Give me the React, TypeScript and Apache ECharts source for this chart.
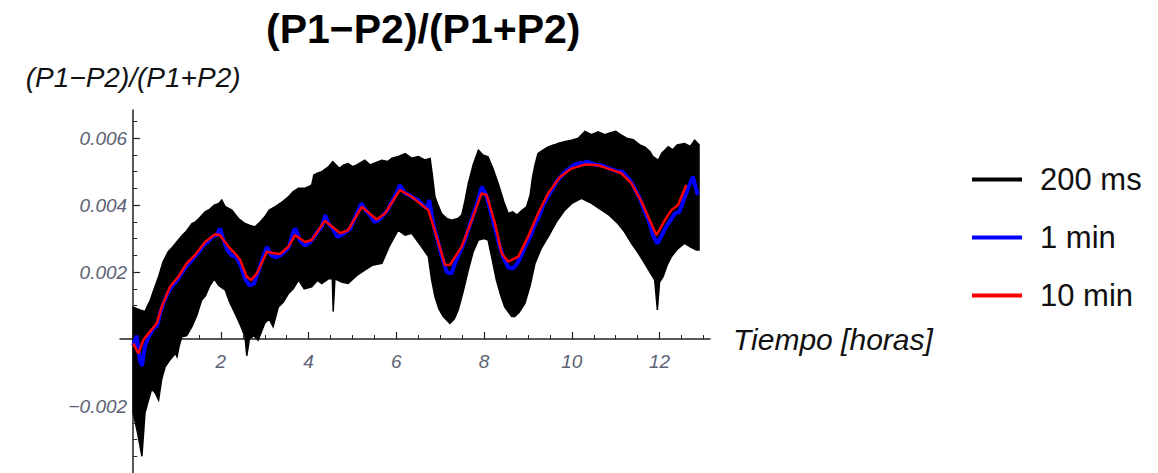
import { useEffect, useRef } from "react";
import * as echarts from "echarts";

const FONT = '"Liberation Sans", Arial, Helvetica, sans-serif';

// Time in hours; ratio values in thousandths (×1e-3).
// 200 ms samples: upper and lower edges of the dense band.
const fastUpper: [number, number][] = [
  [0, 0.95], [0.1, 0.9], [0.2, 0.85], [0.27, 0.82], [0.33, 1.0], [0.39, 1.16],
  [0.48, 1.5], [0.58, 1.86], [0.68, 2.3], [0.8, 2.61], [0.9, 2.75], [1.03, 2.96],
  [1.12, 3.1], [1.2, 3.2], [1.34, 3.45], [1.42, 3.5], [1.5, 3.6], [1.64, 3.8],
  [1.75, 3.88], [1.85, 4.0], [1.95, 4.05], [2.02, 4.15], [2.1, 3.95], [2.25, 3.85],
  [2.4, 3.6], [2.55, 3.45], [2.65, 3.4], [2.78, 3.35], [2.9, 3.5], [3.0, 3.65],
  [3.1, 3.85], [3.23, 3.95], [3.4, 4.1], [3.54, 4.25], [3.65, 4.4], [3.77, 4.5],
  [3.9, 4.5], [4.0, 4.55], [4.07, 4.6], [4.12, 4.9], [4.2, 4.95], [4.3, 5.0],
  [4.45, 5.14], [4.55, 5.3], [4.7, 5.1], [4.8, 5.2], [4.9, 5.24], [5.0, 5.15],
  [5.1, 5.2], [5.28, 5.34], [5.4, 5.2], [5.5, 5.25], [5.67, 5.34], [5.8, 5.3],
  [5.9, 5.4], [6.05, 5.45], [6.2, 5.54], [6.35, 5.4], [6.5, 5.45], [6.65, 5.35],
  [6.77, 5.39], [6.82, 4.9], [6.88, 4.25], [6.95, 4.0], [7.03, 3.75], [7.15, 3.6],
  [7.26, 3.55], [7.4, 3.6], [7.49, 3.7], [7.56, 4.1], [7.64, 4.65], [7.75, 5.2],
  [7.87, 5.64], [7.97, 5.5], [8.09, 5.44], [8.2, 5.1], [8.32, 4.65], [8.45, 4.1],
  [8.55, 3.75], [8.65, 3.8], [8.75, 3.7], [8.87, 3.85], [8.97, 3.95], [9.05, 4.3],
  [9.1, 4.8], [9.16, 5.2], [9.23, 5.54], [9.35, 5.65], [9.46, 5.74], [9.6, 5.8],
  [9.7, 5.85], [9.85, 5.9], [9.99, 5.94], [10.15, 6.0], [10.3, 6.2], [10.45, 6.1],
  [10.6, 6.19], [10.75, 6.1], [10.85, 6.15], [11.0, 6.2], [11.13, 6.09], [11.25, 6.0],
  [11.4, 5.95], [11.55, 5.8], [11.66, 5.74], [11.78, 5.6], [11.85, 5.45], [11.97, 5.34],
  [12.05, 5.55], [12.2, 5.74], [12.3, 5.65], [12.4, 5.8], [12.57, 5.84], [12.7, 5.75],
  [12.8, 5.94], [12.9, 5.8],
];

const fastLower: [number, number][] = [
  [0, -2.2], [0.1, -2.8], [0.2, -3.5], [0.27, -2.2], [0.35, -1.82], [0.42, -1.5],
  [0.5, -1.6], [0.58, -1.82], [0.65, -1.2], [0.73, -0.83], [0.85, -0.6], [0.96, -0.43],
  [1.0, -0.53], [1.05, -0.2], [1.11, 0.07], [1.22, 0.1], [1.34, 0.37], [1.45, 0.7],
  [1.56, 1.16], [1.65, 1.3], [1.75, 1.6], [1.85, 1.8], [1.95, 1.6], [2.1, 1.46],
  [2.2, 1.1], [2.32, 0.77], [2.45, 0.4], [2.55, 0.07], [2.59, -0.5], [2.65, 0.0],
  [2.75, 0.1], [2.85, -0.03], [3.0, 0.47], [3.1, 0.6], [3.19, 0.37], [3.31, 0.96],
  [3.42, 1.1], [3.54, 1.36], [3.65, 1.5], [3.77, 1.76], [3.9, 1.5], [4.07, 1.56],
  [4.2, 1.75], [4.3, 1.66], [4.45, 1.8], [4.54, 1.8], [4.56, 0.82], [4.6, 1.8],
  [4.75, 1.7], [4.9, 1.66], [5.1, 1.9], [5.28, 2.06], [5.45, 2.2], [5.67, 2.26],
  [5.85, 2.8], [6.04, 3.25], [6.2, 3.1], [6.35, 3.16], [6.55, 2.8], [6.73, 2.46],
  [6.8, 1.8], [6.88, 1.26], [6.97, 0.9], [7.07, 0.67], [7.22, 0.47], [7.32, 0.6],
  [7.41, 0.87], [7.52, 1.4], [7.64, 2.06], [7.75, 2.6], [7.87, 2.96], [8.0, 3.0],
  [8.09, 2.96], [8.18, 2.4], [8.28, 1.76], [8.38, 1.3], [8.47, 0.96], [8.63, 0.67],
  [8.7, 0.67], [8.8, 0.8], [8.93, 1.06], [9.05, 1.6], [9.16, 2.26], [9.3, 2.7],
  [9.46, 3.05], [9.65, 3.5], [9.84, 3.85], [10.0, 4.05], [10.22, 4.2], [10.45, 4.05],
  [10.68, 3.85], [10.85, 3.7], [11.05, 3.45], [11.2, 3.2], [11.36, 2.86], [11.5, 2.6],
  [11.66, 2.26], [11.78, 2.0], [11.89, 1.76], [11.95, 0.87], [12.0, 1.7], [12.08, 1.86],
  [12.17, 2.2], [12.27, 2.46], [12.42, 2.7], [12.57, 2.86], [12.7, 2.75], [12.84, 2.66],
  [12.9, 2.66],
];

// 1 min averages
const oneMin: [number, number][] = [
  [0, -0.2], [0.08, 0.1], [0.15, -0.6], [0.2, -0.8], [0.27, -0.2], [0.35, 0.05],
  [0.45, 0.3], [0.55, 0.4], [0.62, 0.8], [0.7, 1.1], [0.8, 1.4], [0.9, 1.6],
  [1.0, 1.75], [1.1, 1.95], [1.2, 2.15], [1.3, 2.3], [1.4, 2.45], [1.5, 2.6],
  [1.6, 2.8], [1.7, 2.9], [1.8, 3.05], [1.9, 3.1], [1.98, 3.3], [2.05, 3.0],
  [2.15, 2.65], [2.25, 2.5], [2.35, 2.45], [2.45, 2.2], [2.55, 1.8], [2.65, 1.6],
  [2.75, 1.65], [2.85, 2.0], [2.95, 2.4], [3.05, 2.75], [3.15, 2.5], [3.25, 2.45],
  [3.35, 2.5], [3.45, 2.6], [3.55, 2.75], [3.65, 3.2], [3.7, 3.3], [3.8, 2.95],
  [3.9, 2.8], [4.0, 2.85], [4.1, 3.0], [4.2, 3.2], [4.3, 3.35], [4.38, 3.7],
  [4.45, 3.45], [4.55, 3.3], [4.65, 3.05], [4.75, 3.1], [4.85, 3.2], [4.95, 3.3],
  [5.05, 3.6], [5.15, 3.9], [5.2, 4.05], [5.3, 3.85], [5.4, 3.7], [5.5, 3.5],
  [5.6, 3.55], [5.7, 3.7], [5.8, 3.85], [5.9, 4.1], [6.0, 4.35], [6.08, 4.6],
  [6.2, 4.35], [6.3, 4.3], [6.4, 4.2], [6.5, 4.15], [6.6, 4.0], [6.7, 3.9],
  [6.75, 4.15], [6.85, 3.4], [6.95, 2.9], [7.05, 2.4], [7.15, 2.0], [7.25, 1.95],
  [7.35, 2.3], [7.45, 2.6], [7.55, 2.9], [7.65, 3.3], [7.75, 3.7], [7.85, 4.1],
  [7.95, 4.55], [8.05, 4.3], [8.15, 3.8], [8.25, 3.3], [8.35, 2.8], [8.45, 2.4],
  [8.55, 2.15], [8.65, 2.1], [8.75, 2.25], [8.85, 2.5], [8.95, 2.8], [9.05, 3.05],
  [9.15, 3.4], [9.25, 3.65], [9.35, 4.0], [9.45, 4.25], [9.55, 4.45], [9.65, 4.7],
  [9.75, 4.85], [9.85, 5.0], [9.95, 5.1], [10.05, 5.2], [10.15, 5.25], [10.25, 5.25],
  [10.35, 5.3], [10.45, 5.25], [10.55, 5.2], [10.65, 5.2], [10.75, 5.15], [10.85, 5.1],
  [10.95, 5.05], [11.05, 5.0], [11.15, 5.0], [11.25, 4.85], [11.35, 4.7], [11.45, 4.45],
  [11.55, 4.2], [11.65, 3.85], [11.75, 3.55], [11.85, 3.1], [11.95, 2.85], [12.05, 3.1],
  [12.15, 3.35], [12.25, 3.55], [12.35, 3.75], [12.45, 3.8], [12.55, 4.15], [12.65, 4.5],
  [12.76, 4.85], [12.82, 4.55], [12.87, 4.3],
];

// 10 min averages
const tenMin: [number, number][] = [
  [0, -0.13], [0.12, -0.43], [0.23, -0.03], [0.35, 0.17], [0.54, 0.47], [0.65, 0.96],
  [0.84, 1.56], [1.03, 1.86], [1.22, 2.26], [1.41, 2.51], [1.64, 2.9], [1.87, 3.13],
  [1.98, 3.1], [2.17, 2.76], [2.32, 2.56], [2.44, 2.36], [2.59, 1.86], [2.69, 1.76],
  [2.82, 1.96], [3.05, 2.61], [3.2, 2.56], [3.35, 2.54], [3.54, 2.76], [3.69, 3.1],
  [3.92, 2.9], [4.07, 2.96], [4.37, 3.53], [4.72, 3.16], [4.9, 3.25], [5.21, 3.95],
  [5.55, 3.57], [5.74, 3.75], [6.08, 4.45], [6.35, 4.25], [6.73, 3.85], [6.92, 3.05],
  [7.11, 2.21], [7.22, 2.21], [7.49, 2.76], [7.72, 3.55], [7.94, 4.35], [8.06, 4.3],
  [8.25, 3.45], [8.4, 2.56], [8.55, 2.31], [8.78, 2.46], [9.0, 3.05], [9.23, 3.75],
  [9.46, 4.35], [9.73, 4.84], [9.99, 5.09], [10.3, 5.21], [10.6, 5.19], [10.83, 5.09],
  [11.13, 4.95], [11.36, 4.65], [11.59, 4.1], [11.74, 3.65], [11.93, 3.1], [12.12, 3.55],
  [12.27, 3.85], [12.42, 4.0], [12.61, 4.6],
];

const xMajorTicks = [2, 4, 6, 8, 10, 12];
const xMinorTicks = [0.5, 1, 1.5, 2.5, 3, 3.5, 4.5, 5, 5.5, 6.5, 7, 7.5, 8.5, 9, 9.5, 10.5, 11, 11.5, 12.5, 13];
const yMajorTicks = [-0.002, 0.002, 0.004, 0.006];
const yMinorTicks = [
  -0.0035, -0.003, -0.0025, -0.0015, -0.001, -0.0005, 0.0005, 0.001, 0.0015,
  0.0025, 0.003, 0.0035, 0.0045, 0.005, 0.0055, 0.0065,
];

const seriesNames = ["200 ms", "1 min", "10 min"];
const seriesColors = ["#000000", "#0000ff", "#ff0000"];

const toRatio = (pts: [number, number][]) => pts.map(([h, v]) => [h, v / 1000]);

const X_MIN = -0.3;
const X_MAX = 13.15;
const Y_MIN = -0.004;
const Y_MAX = 0.00684;

// Plot area
const GRID = { left: 120, top: 110, width: 590, height: 363 };
// Axes cross at the origin: shift them from the grid edges to x = 0 / y = 0.
const xAxisShift = -(GRID.height * (0 - Y_MIN)) / (Y_MAX - Y_MIN);
const yAxisShift = -(GRID.width * (0 - X_MIN)) / (X_MAX - X_MIN);

const tickLabelStyle = {
  fontFamily: FONT,
  fontStyle: "italic" as const,
  fontSize: 19,
  color: "#5d6275",
};

const axisColor = "#222";

export default function App() {
  const ref = useRef<HTMLDivElement>(null);

  useEffect(() => {
    if (!ref.current) return;
    const chart = echarts.init(ref.current, undefined, { renderer: "svg" });

    const upper = toRatio(fastUpper);
    const lower = toRatio(fastLower);

    const option: any = {
      animation: false,
      backgroundColor: "#ffffff",
      title: {
        text: "(P1−P2)/(P1+P2)",
        left: 261,
        top: 3,
        textStyle: { fontFamily: FONT, fontSize: 41, fontWeight: "bold", color: "#000" },
      },
      legend: {
        orient: "vertical",
        left: 972,
        top: 164,
        padding: 0,
        icon: "rect",
        itemWidth: 50,
        itemHeight: 4,
        itemGap: 27,
        selectedMode: false,
        data: seriesNames.map((n, i) => ({ name: n, itemStyle: { color: seriesColors[i] } })),
        textStyle: { fontFamily: FONT, fontSize: 31, color: "#111", padding: [0, 0, 0, 13] },
      },
      grid: { ...GRID, outerBoundsMode: "none", containLabel: false },
      xAxis: [
        {
          type: "value",
          min: X_MIN,
          max: X_MAX,
          position: "bottom",
          offset: xAxisShift,
          name: "Tiempo [horas]",
          nameLocation: "end",
          nameGap: 23,
          nameTextStyle: { fontFamily: FONT, fontStyle: "italic", fontSize: 30, color: "#111", verticalAlign: "middle" },
          axisLine: { show: true, onZero: false, lineStyle: { color: axisColor, width: 1.5 } },
          axisTick: { show: true, inside: true, length: 7, customValues: xMajorTicks, lineStyle: { color: axisColor, width: 1.2 } },
          axisLabel: { show: true, customValues: xMajorTicks, margin: 13, ...tickLabelStyle, formatter: (v: number) => String(v) },
          splitLine: { show: false },
        },
        {
          type: "value",
          min: X_MIN,
          max: X_MAX,
          position: "bottom",
          offset: xAxisShift,
          axisLine: { show: false, onZero: false },
          axisTick: { show: true, inside: true, length: 4, customValues: xMinorTicks, lineStyle: { color: axisColor, width: 1 } },
          axisLabel: { show: false },
          splitLine: { show: false },
        },
      ],
      yAxis: [
        {
          type: "value",
          min: Y_MIN,
          max: Y_MAX,
          position: "left",
          offset: yAxisShift,
          name: "(P1−P2)/(P1+P2)",
          nameLocation: "end",
          nameGap: 33,
          nameTextStyle: { fontFamily: FONT, fontStyle: "italic", fontSize: 28, color: "#111", align: "center", verticalAlign: "middle" },
          axisLine: { show: true, onZero: false, lineStyle: { color: axisColor, width: 1.5 } },
          axisTick: { show: true, inside: true, length: 7, customValues: yMajorTicks, lineStyle: { color: axisColor, width: 1.2 } },
          axisLabel: {
            show: true,
            customValues: yMajorTicks,
            margin: 6,
            ...tickLabelStyle,
            formatter: (v: number) => v.toFixed(3).replace("-", "−"),
          },
          splitLine: { show: false },
        },
        {
          type: "value",
          min: Y_MIN,
          max: Y_MAX,
          position: "left",
          offset: yAxisShift,
          axisLine: { show: false, onZero: false },
          axisTick: { show: true, inside: true, length: 4, customValues: yMinorTicks, lineStyle: { color: axisColor, width: 1 } },
          axisLabel: { show: false },
          splitLine: { show: false },
        },
      ],
      series: [
        {
          name: seriesNames[0],
          type: "custom",
          coordinateSystem: "cartesian2d",
          xAxisIndex: 0,
          yAxisIndex: 0,
          data: [[0, 0]],
          itemStyle: { color: seriesColors[0] },
          silent: true,
          renderItem: (_params: any, api: any) => {
            const pts = [
              ...upper.map((p) => api.coord(p)),
              ...lower.slice().reverse().map((p) => api.coord(p)),
            ];
            return {
              type: "polygon",
              shape: { points: pts },
              style: { fill: seriesColors[0], stroke: seriesColors[0], lineWidth: 1.5 },
            };
          },
        },
        {
          name: seriesNames[1],
          type: "line",
          xAxisIndex: 0,
          yAxisIndex: 0,
          data: toRatio(oneMin),
          showSymbol: false,
          color: seriesColors[1],
          lineStyle: { color: seriesColors[1], width: 4 },
          silent: true,
        },
        {
          name: seriesNames[2],
          type: "line",
          xAxisIndex: 0,
          yAxisIndex: 0,
          data: toRatio(tenMin),
          showSymbol: false,
          color: seriesColors[2],
          lineStyle: { color: seriesColors[2], width: 2.5 },
          silent: true,
        },
      ],
    };

    chart.setOption(option);
    return () => chart.dispose();
  }, []);

  return (
    <div
      ref={ref}
      style={{ position: "fixed", left: 0, top: 0, width: 1158, height: 473, background: "#fff" }}
    />
  );
}
